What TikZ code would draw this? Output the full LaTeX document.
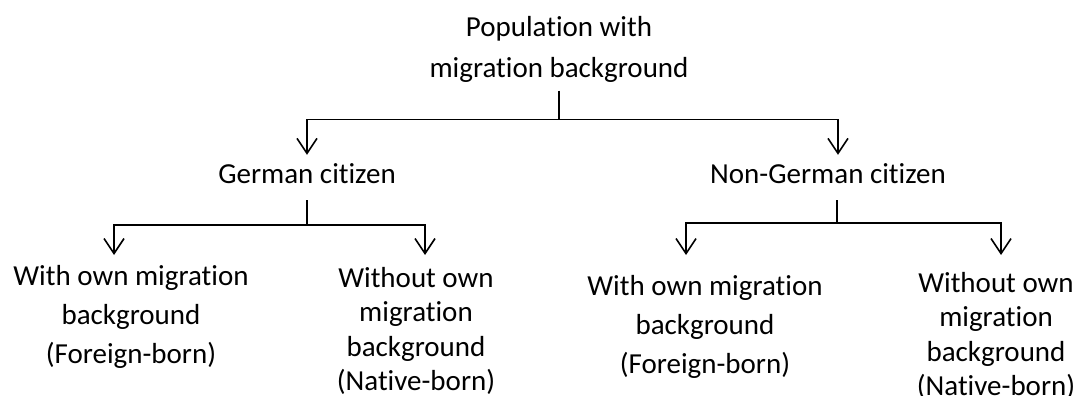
\documentclass[tikz,border=0pt]{standalone}
\usepackage{fontspec}
\setmainfont{Carlito}[Ligatures=NoCommon]
\usetikzlibrary{arrows.meta}
\begin{document}
\begin{tikzpicture}[x=1pt,y=-1pt,
  conn/.style={line width=1.6pt},
  arr/.style={conn,-{Straight Barb[length=15pt,width=20pt]}},
  lbl/.style={inner xsep=0pt, align=center},
  toplbl/.style={lbl, font=\fontsize{29}{41}\selectfont, inner ysep=8pt},
  midlbl/.style={lbl, font=\fontsize{29}{35}\selectfont, text height=20pt, text depth=9pt, inner ysep=8pt},
  leafwide/.style={lbl, font=\fontsize{29}{39}\selectfont},
  leafnarrow/.style={lbl, font=\fontsize{29}{34.5}\selectfont}
]
\path[fill=white, use as bounding box] (0,0) rectangle (1077,396);

% labels
\node[toplbl, anchor=north] (top) at (559,8) {Population with\\migration background};
\node[midlbl, anchor=base] (ger) at (307,183) {German citizen};
\node[midlbl, anchor=base] (nger) at (828,183) {Non-German citizen};
\node[leafwide, anchor=north, inner ysep=10pt] (gwith) at (131,255) {With own migration\\background\\(Foreign-born)};
\node[leafnarrow, anchor=north, inner ysep=12pt] (gwithout) at (416,255) {Without own\\migration\\background\\(Native-born)};
\node[leafwide, anchor=north, inner ysep=20pt] (nwith) at (705,255) {With own migration\\background\\(Foreign-born)};
\node[leafnarrow, anchor=north, inner ysep=17pt] (nwithout) at (996,255) {Without own\\migration\\background\\(Native-born)};

% first split
\draw[conn] (top.south) -- ++(0,29) coordinate (b1);
\draw[arr] (b1) -| (ger.north);
\draw[arr] (b1) -| ([xshift=10pt]nger.north);

% German citizens
\draw[conn] (ger.south) -- ++(0,25) coordinate (b2);
\draw[arr] (b2) -| ([xshift=-17pt]gwith.north);
\draw[arr] (b2) -| ([xshift=9pt]gwithout.north);

% Non-German citizens
\draw[conn] ([xshift=9pt]nger.south) -- ++(0,23) coordinate (b3);
\draw[arr] (b3) -| ([xshift=-19pt]nwith.north);
\draw[arr] (b3) -| ([xshift=5pt]nwithout.north);
\end{tikzpicture}
\end{document}
